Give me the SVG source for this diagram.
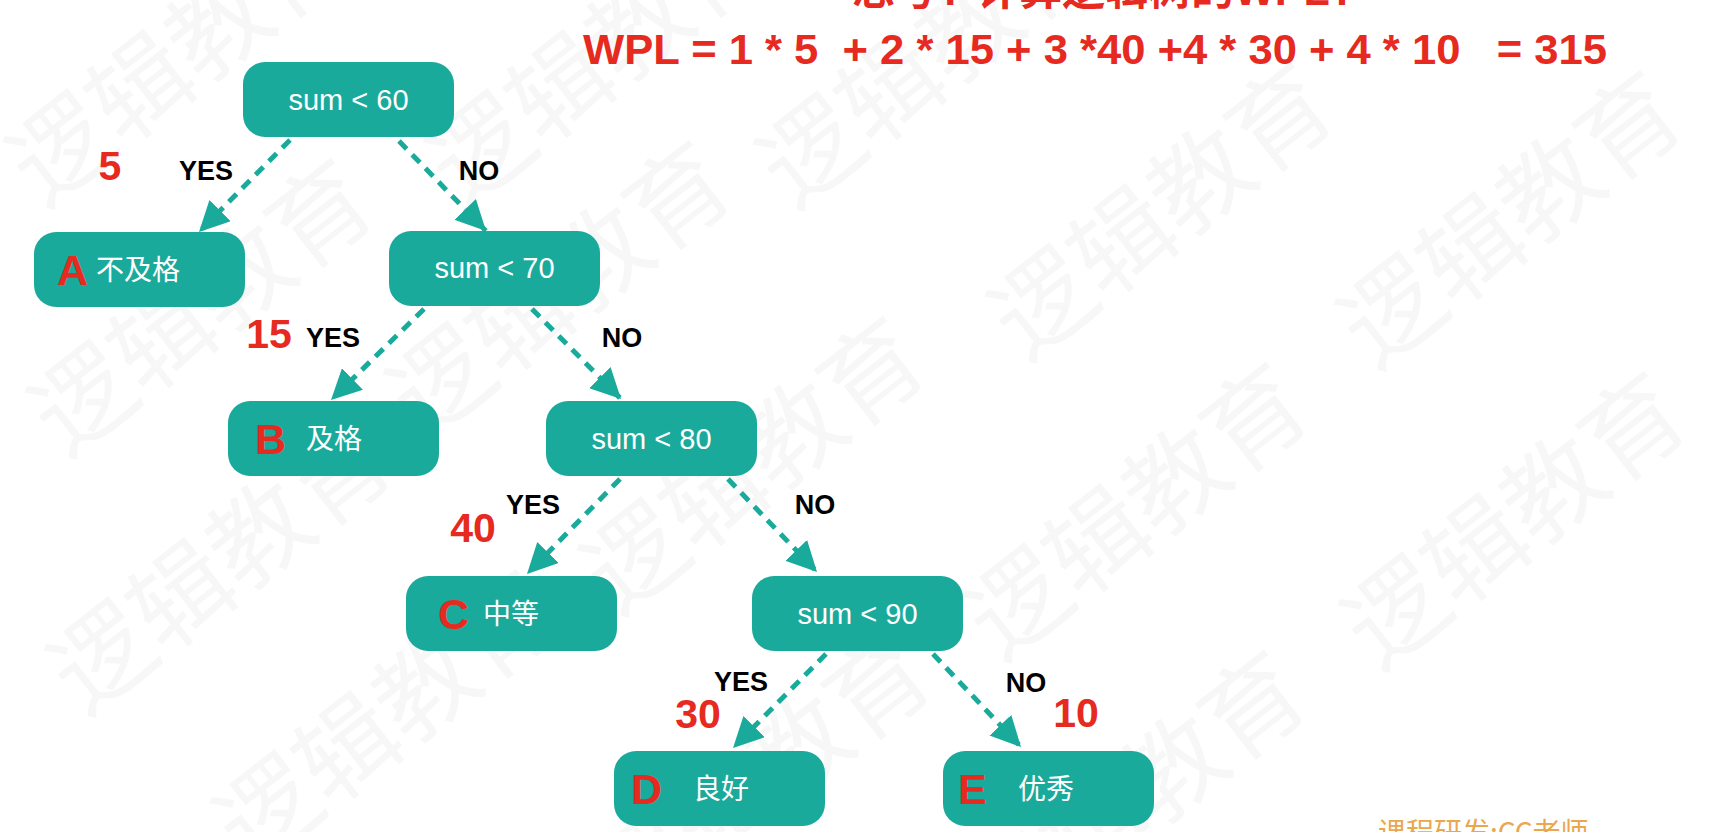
<svg xmlns="http://www.w3.org/2000/svg" width="1732" height="832" viewBox="0 0 1732 832">
<defs>
<style>
.wm{font-family:"Noto Sans CJK SC",sans-serif;font-size:100px;fill:#f7f7f7;text-anchor:middle}
.box{fill:#1aaa9c}
.cond{font-family:"Liberation Sans","Noto Sans CJK SC",sans-serif;font-size:29px;fill:#fff;text-anchor:middle}
.cn{font-family:"Noto Sans CJK SC",sans-serif;font-size:28px;fill:#fff}
.let{font-family:"Liberation Sans",sans-serif;font-size:43px;font-weight:bold;fill:#e62a1f}
.num{font-family:"Liberation Sans",sans-serif;font-size:41px;font-weight:bold;fill:#e62a1f;text-anchor:middle}
.yn{font-family:"Liberation Sans",sans-serif;font-size:27px;font-weight:bold;fill:#000;text-anchor:middle}
.edge{stroke:#1aaa9c;stroke-width:5;stroke-dasharray:11 8;fill:none}
.title{font-family:"Liberation Sans","Noto Sans CJK SC",sans-serif;font-size:43px;font-weight:bold;fill:#e62a1f}
</style>
<marker id="ah" markerUnits="userSpaceOnUse" markerWidth="30" markerHeight="30" viewBox="0 0 24 24" refX="24" refY="12" orient="auto">
<path d="M0,0 L24,12 L0,24 Z" fill="#1aaa9c"/>
</marker>
</defs>
<rect width="1732" height="832" fill="#fff"/>
<g id="watermark">
<text class="wm" transform="translate(180,58) rotate(-38)" dy="35">逻辑教育</text>
<text class="wm" transform="translate(600,58) rotate(-38)" dy="35">逻辑教育</text>
<text class="wm" transform="translate(202,308) rotate(-38)" dy="35">逻辑教育</text>
<text class="wm" transform="translate(221,566) rotate(-38)" dy="35">逻辑教育</text>
<text class="wm" transform="translate(387,719) rotate(-38)" dy="35">逻辑教育</text>
<text class="wm" transform="translate(754,466) rotate(-38)" dy="35">逻辑教育</text>
<text class="wm" transform="translate(560,290) rotate(-38)" dy="35">逻辑教育</text>
<text class="wm" transform="translate(930,60) rotate(-38)" dy="35">逻辑教育</text>
<text class="wm" transform="translate(1162,212) rotate(-38)" dy="35">逻辑教育</text>
<text class="wm" transform="translate(1511,220) rotate(-38)" dy="35">逻辑教育</text>
<text class="wm" transform="translate(1137,512) rotate(-38)" dy="35">逻辑教育</text>
<text class="wm" transform="translate(1515,521) rotate(-38)" dy="35">逻辑教育</text>
<text class="wm" transform="translate(760,780) rotate(-38)" dy="35">逻辑教育</text>
<text class="wm" transform="translate(1135,800) rotate(-38)" dy="35">逻辑教育</text>
</g>
<g id="header">
<text class="title" x="852" y="5">思考? 计算逻辑树的WPL?</text>
<text class="title" x="583" y="64" xml:space="preserve" textLength="1024" lengthAdjust="spacingAndGlyphs">WPL = 1 * 5  + 2 * 15 + 3 *40 +4 * 30 + 4 * 10   = 315</text>
</g>
<g id="connectors">
<line class="edge" x1="290" y1="140" x2="199" y2="232" marker-end="url(#ah)"/>
<line class="edge" x1="399" y1="141" x2="486" y2="231" marker-end="url(#ah)"/>
<line class="edge" x1="424" y1="309" x2="331" y2="400" marker-end="url(#ah)"/>
<line class="edge" x1="532" y1="309" x2="621" y2="399" marker-end="url(#ah)"/>
<line class="edge" x1="620" y1="479" x2="527" y2="574" marker-end="url(#ah)"/>
<line class="edge" x1="728" y1="479" x2="817" y2="572" marker-end="url(#ah)"/>
<line class="edge" x1="826" y1="654" x2="733" y2="748" marker-end="url(#ah)"/>
<line class="edge" x1="933" y1="654" x2="1021" y2="747" marker-end="url(#ah)"/>
</g>
<g id="edge-labels">
<text class="num" x="110" y="180">5</text>
<text class="yn" x="206" y="180">YES</text>
<text class="yn" x="479" y="180">NO</text>
<text class="num" x="269" y="348">15</text>
<text class="yn" x="333" y="347">YES</text>
<text class="yn" x="622" y="347">NO</text>
<text class="num" x="473" y="542">40</text>
<text class="yn" x="533" y="514">YES</text>
<text class="yn" x="815" y="514">NO</text>
<text class="num" x="698" y="728">30</text>
<text class="yn" x="741" y="691">YES</text>
<text class="yn" x="1026" y="692">NO</text>
<text class="num" x="1076" y="727">10</text>
</g>
<g id="node-sum60">
<rect class="box" x="243" y="62" width="211" height="75" rx="22"/>
<text class="cond" x="348.5" y="110">sum &lt; 60</text>
</g>
<g id="node-A">
<rect class="box" x="34" y="232" width="211" height="75" rx="22"/>
<text class="let" x="57" y="285">A</text>
<text class="cn" x="96" y="280">不及格</text>
</g>
<g id="node-sum70">
<rect class="box" x="389" y="231" width="211" height="75" rx="22"/>
<text class="cond" x="494.5" y="278">sum &lt; 70</text>
</g>
<g id="node-B">
<rect class="box" x="228" y="401" width="211" height="75" rx="22"/>
<text class="let" x="255" y="454">B</text>
<text class="cn" x="306" y="449">及格</text>
</g>
<g id="node-sum80">
<rect class="box" x="546" y="401" width="211" height="75" rx="22"/>
<text class="cond" x="651.5" y="449">sum &lt; 80</text>
</g>
<g id="node-C">
<rect class="box" x="406" y="576" width="211" height="75" rx="22"/>
<text class="let" x="438" y="629">C</text>
<text class="cn" x="483" y="624">中等</text>
</g>
<g id="node-sum90">
<rect class="box" x="752" y="576" width="211" height="75" rx="22"/>
<text class="cond" x="857.5" y="624">sum &lt; 90</text>
</g>
<g id="node-D">
<rect class="box" x="614" y="751" width="211" height="75" rx="22"/>
<text class="let" x="631" y="804">D</text>
<text class="cn" x="693" y="799">良好</text>
</g>
<g id="node-E">
<rect class="box" x="943" y="751" width="211" height="75" rx="22"/>
<text class="let" x="958" y="804">E</text>
<text class="cn" x="1018" y="799">优秀</text>
</g>
<g id="footer">
<text x="1378" y="843" font-family="Noto Sans CJK SC, sans-serif" font-size="28" fill="#e9a74e">课程研发:CC老师</text>
</g>
</svg>
